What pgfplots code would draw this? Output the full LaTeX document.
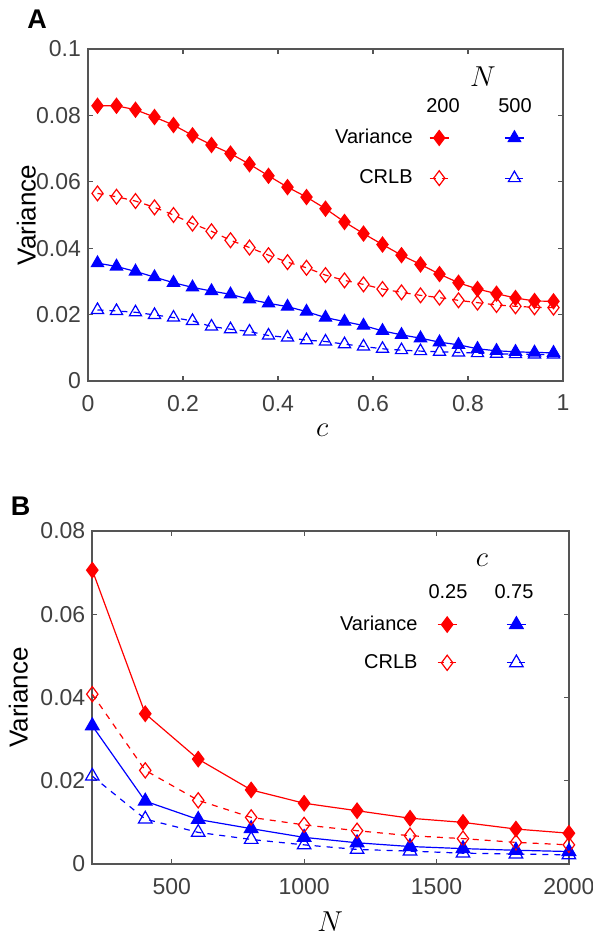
\documentclass[border=0pt]{standalone}
\usepackage{pgfplots}
\pgfplotsset{compat=1.18}
\usepackage{fontspec}
\setmainfont{Liberation Sans}
\definecolor{axisgray}{HTML}{555555}
\definecolor{tickgray}{HTML}{404040}
\definecolor{pred}{HTML}{FF0000}
\definecolor{pblue}{HTML}{0000FF}

\pgfplotsset{
  mystyle/.style={
    scale only axis,
    clip=false,
    axis line style={draw=axisgray, line width=0.8pt},
    every tick/.style={draw=axisgray, line width=0.6pt},
    major tick length=2.5pt,
    tick label style={font=\fontsize{11.5}{13}\selectfont, text=tickgray},
    xticklabel style={yshift=-3.5pt},
    /pgf/number format/assume math mode=true,
    scaled ticks=false,
    legend columns=2,
    legend plot pos=right,
    legend cell align=right,
    legend image code/.code={\draw[mark repeat=2,mark phase=2] plot coordinates {(-4.75pt,0pt)(0pt,0pt)(4.75pt,0pt)};},
  },
  vfill/.style={pred, solid, line width=0.6pt, mark=diamond*, mark options={solid, fill=pred}},
  vopen/.style={pred, dashed, line width=0.6pt, mark=diamond, mark options={solid}},
  tfill/.style={pblue, solid, line width=0.6pt, mark=triangle*, mark options={solid, fill=pblue}},
  topen/.style={pblue, dashed, line width=0.6pt, mark=triangle, mark options={solid}},
}

\begin{document}
\begin{tikzpicture}
\useasboundingbox (0pt,0pt) rectangle (296.5pt,-470.5pt);

% ---------------- Panel A ----------------
\begin{axis}[mystyle,
  at={(44pt,-190.5pt)}, anchor=south west,
  width=237.5pt, height=166pt,
  xmin=0, xmax=1, ymin=0, ymax=0.1,
  xtick={0,0.2,0.4,0.6,0.8,1},
  xticklabels={0,0.2,0.4,0.6,0.8,1},
  ytick={0,0.02,0.04,0.06,0.08,0.1},
  yticklabels={0,0.02,0.04,0.06,0.08,0.1},
  xlabel={$c$},
  ylabel={Variance},
  every axis x label/.style={at={(axis description cs:0.493,-0.148)}, anchor=center, font=\fontsize{15}{18}\selectfont},
  every axis y label/.style={at={(axis description cs:-0.13,0.5)}, rotate=90, anchor=center, font=\fontsize{13}{15}\selectfont},
  mark size=3.7pt,
  legend style={draw=none, fill=none, inner sep=0pt, outer sep=0pt,
    at={(axis description cs:0.919,0.672)}, anchor=east,
    font=\fontsize{10}{12}\selectfont, nodes={inner sep=0pt}, row sep=11.5pt,
    /tikz/column 1/.style={column sep=8.25pt},
    /tikz/column 2/.style={column sep=26.5pt},
    /tikz/column 3/.style={column sep=0pt}},
]
\addplot[vfill] coordinates {
(0.02,0.0829)(0.06,0.0829)(0.10,0.0817)(0.14,0.0795)(0.18,0.0771)(0.22,0.0740)(0.26,0.0711)(0.30,0.0685)(0.34,0.0653)(0.38,0.0618)(0.42,0.0584)(0.46,0.0554)(0.50,0.0519)(0.54,0.0479)(0.58,0.0444)(0.62,0.0411)(0.66,0.0379)(0.70,0.0351)(0.74,0.0322)(0.78,0.0296)(0.82,0.0277)(0.86,0.0263)(0.90,0.0250)(0.94,0.0241)(0.98,0.0240)};
\addlegendentry{Variance}
\addplot[tfill, mark size=3.5pt] coordinates {
(0.02,0.0355)(0.06,0.0345)(0.10,0.0330)(0.14,0.0313)(0.18,0.0296)(0.22,0.0282)(0.26,0.0271)(0.30,0.0261)(0.34,0.0246)(0.38,0.0234)(0.42,0.0224)(0.46,0.0209)(0.50,0.0191)(0.54,0.0179)(0.58,0.0167)(0.62,0.0151)(0.66,0.0139)(0.70,0.0129)(0.74,0.0117)(0.78,0.0109)(0.82,0.0097)(0.86,0.0091)(0.90,0.0088)(0.94,0.0086)(0.98,0.0085)};
\addlegendentry{}
\addplot[vopen] coordinates {
(0.02,0.0565)(0.06,0.0555)(0.10,0.0542)(0.14,0.0523)(0.18,0.0500)(0.22,0.0474)(0.26,0.0451)(0.30,0.0424)(0.34,0.0402)(0.38,0.0379)(0.42,0.0358)(0.46,0.0341)(0.50,0.0319)(0.54,0.0303)(0.58,0.0291)(0.62,0.0277)(0.66,0.0267)(0.70,0.0258)(0.74,0.0251)(0.78,0.0243)(0.82,0.0236)(0.86,0.0229)(0.90,0.0225)(0.94,0.0222)(0.98,0.0221)};
\addlegendentry{CRLB}
\addplot[topen, mark size=3.5pt] coordinates {
(0.02,0.0214)(0.06,0.0211)(0.10,0.0207)(0.14,0.0199)(0.18,0.0191)(0.22,0.0181)(0.26,0.0164)(0.30,0.0156)(0.34,0.0149)(0.38,0.0137)(0.42,0.0131)(0.46,0.0123)(0.50,0.0119)(0.54,0.0111)(0.58,0.0104)(0.62,0.0097)(0.66,0.0093)(0.70,0.0090)(0.74,0.0088)(0.78,0.0086)(0.82,0.0084)(0.86,0.0082)(0.90,0.0081)(0.94,0.0080)(0.98,0.0080)};
\addlegendentry{}
\end{axis}

% ---------------- Panel B ----------------
\begin{axis}[mystyle,
  at={(46.15pt,-432pt)}, anchor=south west,
  width=238.3pt, height=166.5pt,
  xmin=200, xmax=2000, ymin=0, ymax=0.08,
  xtick={500,1000,1500,2000},
  xticklabels={500,1000,1500,2000},
  ytick={0,0.02,0.04,0.06,0.08},
  yticklabels={0,0.02,0.04,0.06,0.08},
  xlabel={$N$},
  ylabel={Variance},
  every axis x label/.style={at={(axis description cs:0.499,-0.174)}, anchor=center, font=\fontsize{15}{18}\selectfont},
  every axis y label/.style={at={(axis description cs:-0.155,0.5)}, rotate=90, anchor=center, font=\fontsize{13}{15}\selectfont},
  mark size=3.8pt,
  legend style={draw=none, fill=none, inner sep=0pt, outer sep=0pt,
    at={(axis description cs:0.911,0.662)}, anchor=east,
    font=\fontsize{10}{12}\selectfont, nodes={inner sep=0pt}, row sep=10.5pt,
    /tikz/column 1/.style={column sep=9.75pt},
    /tikz/column 2/.style={column sep=23.5pt},
    /tikz/column 3/.style={column sep=0pt}},
]
\addplot[vfill] coordinates {
(200,0.0706)(400,0.0361)(600,0.0252)(800,0.0178)(1000,0.0146)(1200,0.0128)(1400,0.0110)(1600,0.0100)(1800,0.0084)(2000,0.0074)};
\addlegendentry{Variance}
\addplot[tfill, mark size=3.9pt] coordinates {
(200,0.0332)(400,0.0151)(600,0.0107)(800,0.0085)(1000,0.0064)(1200,0.0051)(1400,0.0042)(1600,0.0037)(1800,0.0033)(2000,0.0030)};
\addlegendentry{}
\addplot[vopen] coordinates {
(200,0.0408)(400,0.0225)(600,0.0153)(800,0.0112)(1000,0.0094)(1200,0.0080)(1400,0.0068)(1600,0.0061)(1800,0.0052)(2000,0.0046)};
\addlegendentry{CRLB}
\addplot[topen, mark size=3.9pt] coordinates {
(200,0.0211)(400,0.0108)(600,0.0076)(800,0.0059)(1000,0.0046)(1200,0.0035)(1400,0.0031)(1600,0.0026)(1800,0.0024)(2000,0.0022)};
\addlegendentry{}
\end{axis}

% ---------------- Labels and legend headers ----------------
\node[font=\bfseries\fontsize{13.5}{15}\selectfont, anchor=center] at (18.5pt,-9.5pt) {A};
\node[font=\bfseries\fontsize{13.5}{15}\selectfont, anchor=center] at (10.25pt,-253pt) {B};

\node[font=\fontsize{14}{16}\selectfont, anchor=center] at (241.5pt,-38.5pt) {$N$};
\node[font=\fontsize{10}{12}\selectfont, anchor=center] at (221.5pt,-53pt) {200};
\node[font=\fontsize{10}{12}\selectfont, anchor=center] at (257.5pt,-53pt) {500};

\node[font=\fontsize{14}{16}\selectfont, anchor=center] at (241pt,-280pt) {$c$};
\node[font=\fontsize{10}{12}\selectfont, anchor=center] at (224pt,-296pt) {0.25};
\node[font=\fontsize{10}{12}\selectfont, anchor=center] at (257pt,-296pt) {0.75};
\end{tikzpicture}
\end{document}
